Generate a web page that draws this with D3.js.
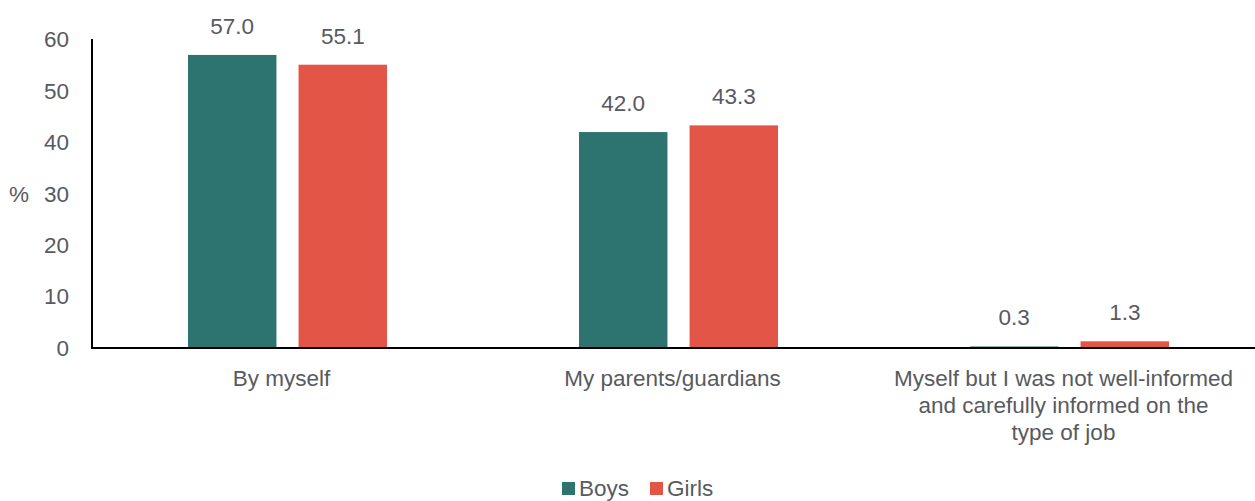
<!DOCTYPE html>
<html>
<head>
<meta charset="utf-8">
<script src="https://cdn.jsdelivr.net/npm/d3@7"></script>
<style>
  body { margin: 0; background: #fff; }
  svg { font-family: "Liberation Sans", Arial, sans-serif; }
</style>
</head>
<body>
<svg id="chart"></svg>
<script>
const WIDTH = 1255;
const HEIGHT = 501;
const FONT = '22.5px';

const categories = [
  ['By myself'],
  ['My parents/guardians'],
  ['Myself but I was not well-informed', 'and carefully informed on the', 'type of job']
];
const seriesNames = ['Boys', 'Girls'];
const boys = [57.0, 42.0, 0.3];
const girls = [55.1, 43.3, 1.3];
const yTicks = [0, 10, 20, 30, 40, 50, 60];
const colors = ['#2D7470', '#E35546'];
const TEXT = '#575a60';

const svg = d3.select('#chart')
  .attr('width', WIDTH)
  .attr('height', HEIGHT);

const x0 = d3.scaleBand()
  .domain(d3.range(categories.length))
  .range([92, 1265])
  .paddingInner(0)
  .paddingOuter(0);

const x1 = d3.scaleBand()
  .domain(seriesNames)
  .range([96, x0.bandwidth() - 96])
  .paddingInner(0.2)
  .paddingOuter(0);

const y = d3.scaleLinear()
  .domain([0, 60])
  .range([348, 39.5]);

// y tick labels
svg.append('g')
  .selectAll('text')
  .data(yTicks)
  .enter()
  .append('text')
  .attr('x', 69)
  .attr('y', d => y(d))
  .attr('dy', '0.35em')
  .attr('text-anchor', 'end')
  .style('font-size', FONT)
  .style('fill', TEXT)
  .text(d => d);

svg.append('text')
  .attr('x', 19)
  .attr('y', y(30))
  .attr('dy', '0.35em')
  .attr('text-anchor', 'middle')
  .style('font-size', FONT)
  .style('fill', TEXT)
  .text('%');

// bars
const rows = categories.map((c, i) => ({ i, values: [boys[i], girls[i]] }));

const groups = svg.append('g')
  .selectAll('g')
  .data(rows)
  .enter()
  .append('g')
  .attr('transform', d => `translate(${x0(d.i)},0)`);

groups.selectAll('rect')
  .data(d => d.values.map((v, k) => ({ v, name: seriesNames[k], k })))
  .enter()
  .append('rect')
  .attr('x', d => x1(d.name))
  .attr('width', x1.bandwidth())
  .attr('y', d => y(d.v))
  .attr('height', d => y(0) - y(d.v))
  .style('fill', d => colors[d.k]);

groups.selectAll('text.val')
  .data(d => d.values.map((v, k) => ({ v, name: seriesNames[k], k })))
  .enter()
  .append('text')
  .attr('class', 'val')
  .attr('x', d => x1(d.name) + x1.bandwidth() / 2)
  .attr('y', d => y(d.v) - 21)
  .attr('text-anchor', 'middle')
  .style('font-size', FONT)
  .style('fill', TEXT)
  .text(d => d.v.toFixed(1));

// axes lines
svg.append('line')
  .attr('x1', 92).attr('x2', 92)
  .attr('y1', 39).attr('y2', y(0) + 1)
  .style('stroke', '#000').style('stroke-width', 2);

svg.append('line')
  .attr('x1', 91).attr('x2', 1265)
  .attr('y1', y(0)).attr('y2', y(0))
  .style('stroke', '#000').style('stroke-width', 2);

// category labels
const catLabels = svg.append('g')
  .selectAll('text')
  .data(categories)
  .enter()
  .append('text')
  .attr('text-anchor', 'middle')
  .style('font-size', FONT)
  .style('fill', TEXT);

catLabels.selectAll('tspan')
  .data((d, i) => d.map(line => ({ line, i })))
  .enter()
  .append('tspan')
  .attr('x', d => x0(d.i) + x0.bandwidth() / 2 - 6)
  .attr('y', (d, j) => 386 + j * 27)
  .text(d => d.line);

// legend
const legend = svg.append('g')
  .attr('transform', 'translate(562,482)');

const legendItems = legend.selectAll('g')
  .data(seriesNames)
  .enter()
  .append('g')
  .attr('transform', (d, i) => `translate(${i * 88},0)`);

legendItems.append('rect')
  .attr('width', 13)
  .attr('height', 13)
  .style('fill', (d, i) => colors[i]);

legendItems.append('text')
  .attr('x', 17)
  .attr('y', 14)
  .style('font-size', FONT)
  .style('fill', TEXT)
  .text(d => d);
</script>
</body>
</html>
